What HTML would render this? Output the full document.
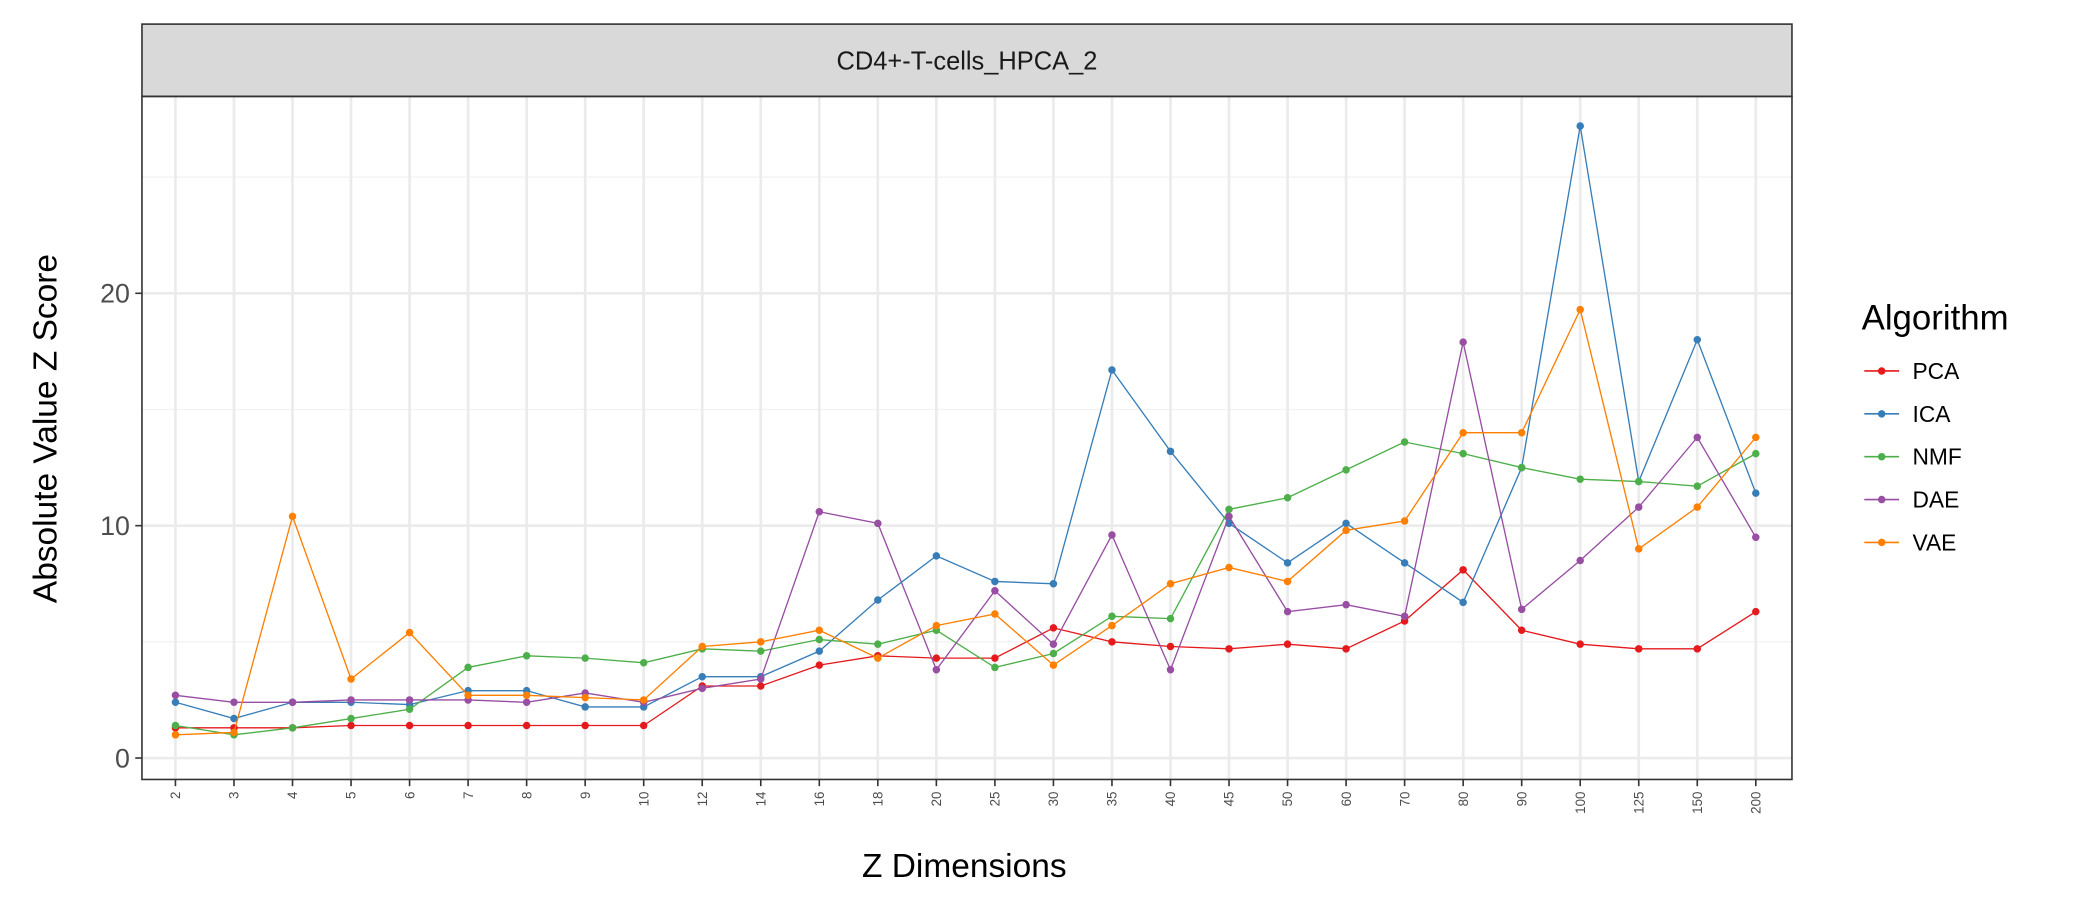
<!DOCTYPE html>
<html><head><meta charset="utf-8"><style>
html,body{margin:0;padding:0;background:#fff}
svg{display:block;font-family:"Liberation Sans",Arial,sans-serif}
</style></head><body>
<svg id="chart" width="2100" height="900" viewBox="0 0 1568 672" xmlns="http://www.w3.org/2000/svg">
<rect width="1568" height="672" fill="#fff"/>
<g id="grid"></g>
<rect x="106" y="18" width="1232" height="54" fill="#d9d9d9" stroke="#333" stroke-width="1.2"/>
<text x="722" y="52" font-size="19" text-anchor="middle" fill="#1a1a1a">CD4+-T-cells_HPCA_2</text>
<g id="series"></g>
<rect x="106" y="72" width="1232" height="510" fill="none" stroke="#333" stroke-width="1.2"/>
<g id="axes"></g>
<text x="720" y="655" font-size="25" text-anchor="middle" fill="#000">Z Dimensions</text>
<text transform="translate(42,320) rotate(-90)" font-size="25" text-anchor="middle" fill="#000">Absolute Value Z Score</text>
<text x="1390" y="246" font-size="26" fill="#000">Algorithm</text>
<g id="legend"></g>
</svg>
<script>
const categories=["2","3","4","5","6","7","8","9","10","12","14","16","18","20","25","30","35","40","45","50","60","70","80","90","100","125","150","200"];
const seriesNames=["PCA","ICA","NMF","DAE","VAE"];
const seriesColors=["#e41a1c","#377eb8","#4daf4a","#984ea3","#ff7f00"];
const pca=[1.3,1.3,1.3,1.4,1.4,1.4,1.4,1.4,1.4,3.1,3.1,4.0,4.4,4.3,4.3,5.6,5.0,4.8,4.7,4.9,4.7,5.9,8.1,5.5,4.9,4.7,4.7,6.3];
const ica=[2.4,1.7,2.4,2.4,2.3,2.9,2.9,2.2,2.2,3.5,3.5,4.6,6.8,8.7,7.6,7.5,16.7,13.2,10.1,8.4,10.1,8.4,6.7,12.5,27.2,11.9,18.0,11.4];
const nmf=[1.4,1.0,1.3,1.7,2.1,3.9,4.4,4.3,4.1,4.7,4.6,5.1,4.9,5.5,3.9,4.5,6.1,6.0,10.7,11.2,12.4,13.6,13.1,12.5,12.0,11.9,11.7,13.1];
const dae=[2.7,2.4,2.4,2.5,2.5,2.5,2.4,2.8,2.4,3.0,3.4,10.6,10.1,3.8,7.2,4.9,9.6,3.8,10.4,6.3,6.6,6.1,17.9,6.4,8.5,10.8,13.8,9.5];
const vae=[1.0,1.1,10.4,3.4,5.4,2.7,2.7,2.6,2.5,4.8,5.0,5.5,4.3,5.7,6.2,4.0,5.7,7.5,8.2,7.6,9.8,10.2,14.0,14.0,19.3,9.0,10.8,13.8];
const yTicks=[0,10,20];
const yMinor=[5,15,25];
const allSeries=[pca,ica,nmf,dae,vae];

const NS="http://www.w3.org/2000/svg";
const X0=131,X1=1311,Y0=566,PPU=17.35;
const xs=i=>X0+(X1-X0)*i/(categories.length-1);
const ys=v=>Y0-v*PPU;
function mk(tag,attrs,parent){const e=document.createElementNS(NS,tag);for(const k in attrs)e.setAttribute(k,attrs[k]);parent.appendChild(e);return e;}
const grid=document.getElementById('grid'),ser=document.getElementById('series'),ax=document.getElementById('axes'),leg=document.getElementById('legend');
mk('rect',{x:106,y:72,width:1232,height:510,fill:'#fff'},grid);
yMinor.forEach(v=>{const l=mk('line',{x1:106,x2:1338,y1:ys(v),y2:ys(v),stroke:'#f2f2f2','stroke-width':1},grid);

});
yTicks.forEach(v=>{const l=mk('line',{x1:106,x2:1338,y1:ys(v),y2:ys(v),stroke:'#ebebeb','stroke-width':2},grid);


const t=mk('line',{x1:101,x2:106,y1:ys(v),y2:ys(v),stroke:'#333','stroke-width':1.2},ax);


const tx=mk('text',{x:97,y:ys(v)+7,'font-size':20,'text-anchor':'end',fill:'#4d4d4d'},ax);tx.textContent=v;

});
categories.forEach((c,i)=>{const x=xs(i);
const l=mk('line',{x1:x,x2:x,y1:72,y2:582,stroke:'#ebebeb','stroke-width':2},grid);


const t=mk('line',{x1:x,x2:x,y1:582,y2:587,stroke:'#333','stroke-width':1.2},ax);


const tx=mk('text',{transform:`translate(${x+3.5},591) rotate(-90)`,'font-size':10,'text-anchor':'end',fill:'#4d4d4d'},ax);tx.textContent=c;

});
allSeries.forEach((d,s)=>{const col=seriesColors[s];
const p=mk('polyline',{points:d.map((v,i)=>xs(i)+','+ys(v)).join(' '),fill:'none',stroke:col,'stroke-width':1},ser);


d.forEach((v,i)=>{const c=mk('circle',{cx:xs(i),cy:ys(v),r:2.8,fill:col},ser);

});
const ly=277+s*32;
const ll=mk('line',{x1:1392,x2:1418,y1:ly,y2:ly,stroke:col,'stroke-width':1.2},leg);


const lc=mk('circle',{cx:1405,cy:ly,r:2.8,fill:col},leg);


const lt=mk('text',{x:1428,y:ly+6,'font-size':17,fill:'#000'},leg);lt.textContent=seriesNames[s];

});
</script>
</body></html>
